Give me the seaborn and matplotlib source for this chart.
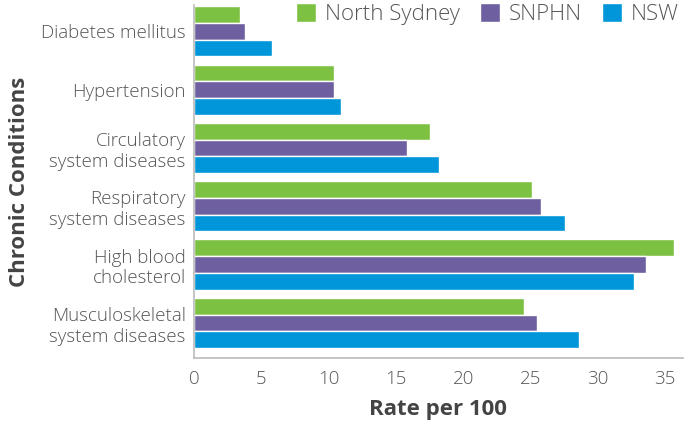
import matplotlib
matplotlib.use("Agg")
import matplotlib.pyplot as plt
import pandas as pd
import seaborn as sns

conditions = ["Diabetes mellitus", "Hypertension", "Circulatory\nsystem diseases",
              "Respiratory\nsystem diseases", "High blood\ncholesterol",
              "Musculoskeletal\nsystem diseases"]
regions = ["North Sydney", "SNPHN", "NSW"]
north_sydney = [3.4, 10.4, 17.5, 25.1, 35.7, 24.5]
snphn = [3.8, 10.4, 15.8, 25.8, 33.6, 25.5]
nsw = [5.8, 10.9, 18.2, 27.6, 32.7, 28.6]
colors = ["#7DC143", "#6E5FA0", "#0096D9"]

df = pd.DataFrame({
    "condition": conditions * 3,
    "region": [r for r in regions for _ in conditions],
    "rate": north_sydney + snphn + nsw,
})

sns.set_style("white")
plt.rcParams["font.family"] = ["Open Sans", "DejaVu Sans"]
text_col = "#555555"

fig = plt.figure(figsize=(6.89, 4.24), dpi=100)
ax = fig.add_axes([0.2816, 0.156, 0.709, 0.832])
sns.barplot(data=df, y="condition", x="rate", hue="region", order=conditions,
            hue_order=regions, palette=colors, orient="h", width=0.86,
            saturation=1, ax=ax)

ax.set_xlim(0, 36.3)
ax.set_ylim(5.6, -0.45)
ax.set_xticks(range(0, 36, 5))
ax.tick_params(axis="x", colors=text_col, labelsize=13.5, length=5, width=1,
               direction="out", pad=4, color="#bbbbbb")
ax.tick_params(axis="y", colors=text_col, labelsize=13.5, length=0, pad=6)
for lab in ax.get_xticklabels() + ax.get_yticklabels():
    lab.set_fontweight("light")
for lab in ax.get_yticklabels():
    lab.set_horizontalalignment("right")
    lab.set_multialignment("right")
    lab.set_linespacing(1.2)
for s in ["top", "right"]:
    ax.spines[s].set_visible(False)
for s in ["left", "bottom"]:
    ax.spines[s].set_color("#bbbbbb")
    ax.spines[s].set_linewidth(1.2)

ax.set_xlabel("Rate per 100", fontsize=16, fontweight="bold", color="#444444", labelpad=8)
ax.set_ylabel("Chronic Conditions", fontsize=16, fontweight="bold", color="#444444", labelpad=8)

leg = ax.legend(loc="upper right", bbox_to_anchor=(1.01, 1.03), ncol=3, frameon=False,
                fontsize=16, handlelength=0.9, handleheight=0.9, handletextpad=0.4,
                columnspacing=0.9, borderaxespad=0)
for t in leg.get_texts():
    t.set_color(text_col)
    t.set_fontweight("light")

fig.savefig("out.png", dpi=100)
